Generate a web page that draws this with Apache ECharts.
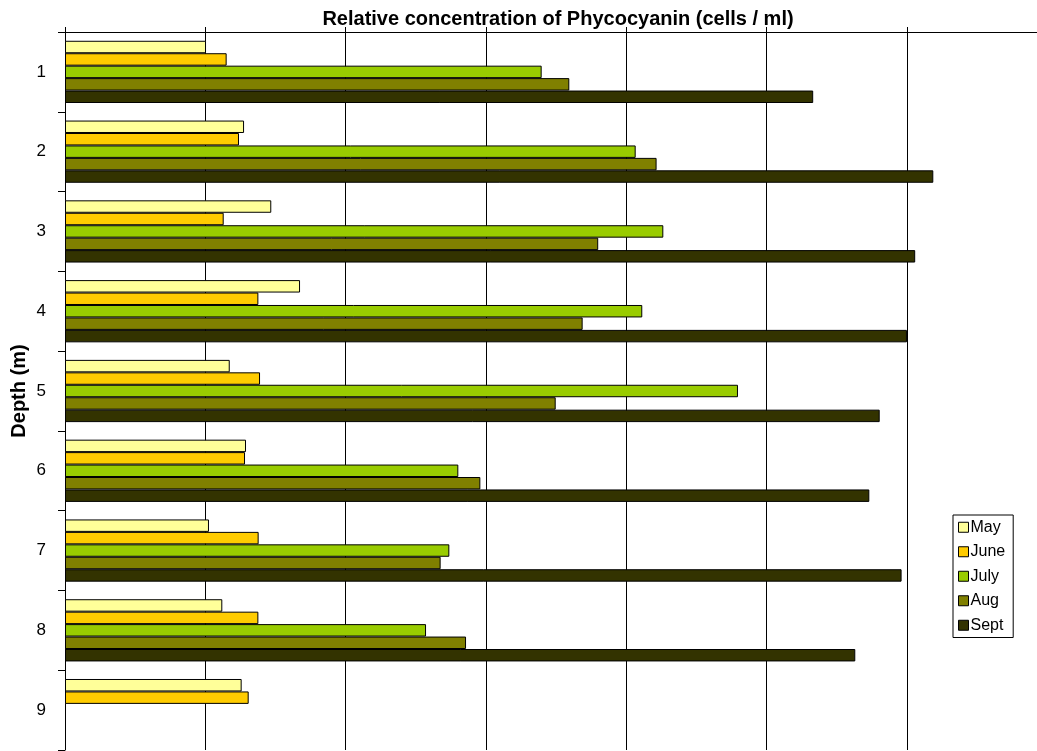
<!DOCTYPE html>
<html>
<head>
<meta charset="utf-8">
<script src="https://cdn.jsdelivr.net/npm/echarts@6/dist/echarts.min.js"></script>
<style>
  html, body { margin: 0; padding: 0; background: #fff; }
  #chart { width: 1037px; height: 751px; }
</style>
</head>
<body>
<div id="chart"></div>
<script>
// Depth levels (m), top to bottom
const depths = ['1', '2', '3', '4', '5', '6', '7', '8', '9'];
const monthNames = ['May', 'June', 'July', 'Aug', 'Sept'];

// Relative phycocyanin concentration per depth, one array per month
const may  = [1.005, 1.276, 1.470, 1.675, 1.174, 1.290, 1.026, 1.121, 1.259];
const june = [1.152, 1.240, 1.131, 1.378, 1.390, 1.283, 1.380, 1.378, 1.309];
const july = [3.397, 4.067, 4.264, 4.114, 4.796, 2.803, 2.739, 2.573, null];
const aug  = [3.594, 4.216, 3.800, 3.689, 3.497, 2.960, 2.677, 2.858, null];
const sept = [5.332, 6.188, 6.059, 6.000, 5.806, 5.732, 5.962, 5.632, null];

const monthValues = [may, june, july, aug, sept];
const monthColors = ['#FFFF99', '#FFCC00', '#99CC00', '#808000', '#333300'];

const FONT = '"Liberation Sans", Arial, sans-serif';

const chart = echarts.init(document.getElementById('chart'), null, { renderer: 'canvas' });

chart.setOption({
  animation: false,
  backgroundColor: '#ffffff',
  textStyle: { fontFamily: FONT, color: '#000' },
  title: {
    text: 'Relative concentration of Phycocyanin (cells / ml)',
    left: 553,
    textAlign: 'center',
    top: 4,
    textStyle: { fontFamily: FONT, fontSize: 20, fontWeight: 'bold', color: '#000' }
  },
  legend: {
    orient: 'vertical',
    left: 953,
    top: 515,
    data: monthNames,
    padding: [4, 8, 4, 5],
    itemGap: 8,
    itemWidth: 10,
    itemHeight: 10,
    icon: 'rect',
    borderColor: '#000',
    borderWidth: 1,
    backgroundColor: '#fff',
    itemStyle: { borderColor: '#000', borderWidth: 1 },
    textStyle: { fontFamily: FONT, fontSize: 16, lineHeight: 16.5, color: '#000', padding: [0, 0, 0, -3] }
  },
  grid: { left: 65, top: 32, right: 0, bottom: 1, containLabel: false, outerBoundsMode: 'none' },
  xAxis: {
    type: 'value',
    position: 'top',
    min: 0,
    max: 6.927,
    interval: 1,
    axisLine: { show: true, lineStyle: { color: '#000', width: 1 } },
    axisTick: { show: true, inside: false, length: 5, lineStyle: { color: '#000' } },
    axisLabel: { show: false },
    splitLine: { show: true, lineStyle: { color: '#000', width: 1 } }
  },
  yAxis: {
    type: 'category',
    data: depths,
    inverse: true,
    name: 'Depth (m)',
    nameLocation: 'middle',
    nameGap: 36,
    nameMoveOverlap: false,
    nameRotate: 90,
    nameTextStyle: { fontFamily: FONT, fontSize: 20, fontWeight: 'bold', color: '#000' },
    axisLine: { show: true, lineStyle: { color: '#000', width: 1 } },
    axisTick: { show: true, inside: false, length: 7, alignWithLabel: false, lineStyle: { color: '#000' } },
    axisLabel: { fontFamily: FONT, fontSize: 17, color: '#000', margin: 19 },
    splitLine: { show: false }
  },
  series: monthNames.map((name, i) => ({
    name: name,
    type: 'bar',
    data: monthValues[i],
    barGap: '0%',
    barCategoryGap: '22%',
    itemStyle: { color: monthColors[i], borderColor: '#000', borderWidth: 1 }
  }))
});
</script>
</body>
</html>
